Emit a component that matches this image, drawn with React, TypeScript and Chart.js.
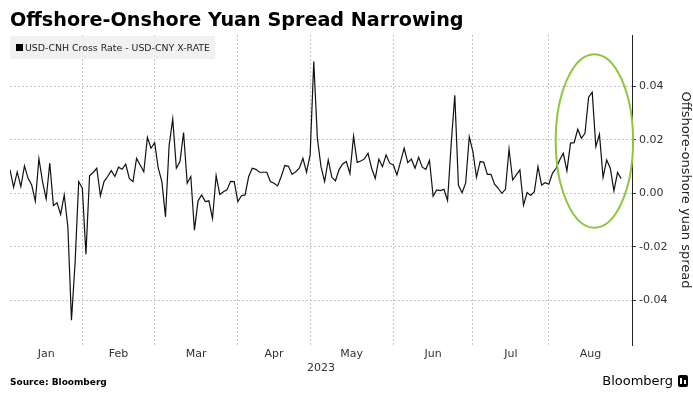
import React, { useEffect, useRef } from "react";
import { Chart, registerables } from "chart.js";

Chart.register(...registerables);

// Spread values, one per business day from 2023-01-04 to 2023-08-29
const spreadValues: number[] = [
  0.0088, 0.0023, 0.008, 0.0025, 0.0103, 0.0056, 0.0031, -0.0029, 0.013, 0.0044,
  -0.0021, 0.0113, -0.0046, -0.0035, -0.0079, -0.0006, -0.0125, -0.0475, -0.026, 0.0044,
  0.0019, -0.0228, 0.0066, 0.0078, 0.0094, -0.0009, 0.0044, 0.0063, 0.0085, 0.0063,
  0.0098, 0.009, 0.0109, 0.0056, 0.0044, 0.0131, 0.0106, 0.0081, 0.021, 0.0169,
  0.019, 0.0094, 0.0044, -0.0088, 0.0179, 0.0278, 0.0094, 0.0119, 0.0228, 0.0038,
  0.0063, -0.0138, -0.0028, -0.0006, -0.0031, -0.0028, -0.0094, 0.0066, -0.0004, 0.0006,
  0.0013, 0.0045, 0.0044, -0.0031, -0.0009, -0.0006, 0.0063, 0.0094, 0.009, 0.0079,
  0.0079, 0.0079, 0.0044, 0.0038, 0.0028, 0.0063, 0.0104, 0.0101, 0.0071, 0.0081,
  0.0094, 0.0131, 0.0079, 0.0144, 0.0494, 0.0206, 0.01, 0.0044, 0.0125, 0.006,
  0.0047, 0.0089, 0.011, 0.0119, 0.0074, 0.0214, 0.0116, 0.0121, 0.0129, 0.015,
  0.0094, 0.0056, 0.0128, 0.01, 0.0144, 0.0113, 0.0106, 0.0069, 0.0119, 0.0169,
  0.0115, 0.0128, 0.0094, 0.0135, 0.0098, 0.009, 0.0123, -0.001, 0.0013, 0.001,
  0.0015, -0.0027, 0.0185, 0.0367, 0.003, 0.0002, 0.0038, 0.0212, 0.0156, 0.006,
  0.0119, 0.0116, 0.0071, 0.0071, 0.0034, 0.0019, 0.0, 0.0015, 0.0166, 0.005,
  0.0069, 0.0088, -0.0044, 0.0003, -0.0008, 0.0006, 0.01, 0.0031, 0.004, 0.0034,
  0.0075, 0.0094, 0.0125, 0.015, 0.0084, 0.0188, 0.019, 0.024, 0.0206, 0.0225,
  0.036, 0.0379, 0.0175, 0.0221, 0.006, 0.0125, 0.0094, 0.0009, 0.0078, 0.0055,
];

const monthLabels: string[] = ["Jan", "Feb", "Mar", "Apr", "May", "Jun", "Jul", "Aug"];
// business days per month on the axis (Jan starts at the 4th)
const monthBusinessDays: number[] = [20, 20, 23, 20, 23, 22, 21, 23];
const yTickValues: number[] = [-0.04, -0.02, 0, 0.02, 0.04];
const yearLabel = "2023";
const seriesName = "USD-CNH Cross Rate - USD-CNY X-RATE";
const yAxisTitle = "Offshore-onshore yuan spread";

// highlighted region (data units): centre index, centre value, half-width (days), half-height (value)
const highlightCenterX = 161.6;
const highlightCenterY = 0.0196;
const highlightHalfX = 10.7;
const highlightHalfY = 0.0325;

const FONT = "'DejaVu Sans', Verdana, sans-serif";
const GRID_COLOR = "#c4c4c4";

export default function App() {
  const canvasRef = useRef<HTMLCanvasElement | null>(null);

  useEffect(() => {
    const canvas = canvasRef.current;
    if (!canvas) return;

    const boundaries: number[] = [];
    const mids: number[] = [];
    let acc = 0;
    monthBusinessDays.forEach((n) => {
      mids.push(acc + n / 2);
      acc += n;
      boundaries.push(acc);
    });
    const xMax = acc;
    const innerBoundaries = boundaries.slice(0, -1);

    const ellipsePlugin = {
      id: "highlightEllipse",
      afterDatasetsDraw(chart: any) {
        const { ctx, scales } = chart;
        const xs = scales.x;
        const ys = scales.y;
        const cx = xs.getPixelForValue(highlightCenterX);
        const cy = ys.getPixelForValue(highlightCenterY);
        const rx = Math.abs(xs.getPixelForValue(highlightCenterX + highlightHalfX) - cx);
        const ry = Math.abs(ys.getPixelForValue(highlightCenterY + highlightHalfY) - cy);
        ctx.save();
        ctx.beginPath();
        ctx.ellipse(cx, cy, rx, ry, 0, 0, Math.PI * 2);
        ctx.strokeStyle = "#8dc63f";
        ctx.lineWidth = 2;
        ctx.stroke();
        ctx.restore();
      },
    };

    const chart = new Chart(canvas, {
      type: "line",
      data: {
        datasets: [
          {
            label: seriesName,
            data: spreadValues.map((v, i) => ({ x: i, y: v })),
            borderColor: "#111",
            borderWidth: 1.2,
            pointRadius: 0,
            tension: 0,
            fill: false,
          },
        ],
      },
      options: {
        animation: false,
        responsive: false,
        layout: { padding: { left: 10, top: 35, right: 0, bottom: 24 } },
        plugins: {
          legend: { display: false },
          tooltip: { enabled: false },
        },
        scales: {
          x: {
            type: "linear",
            min: 0,
            max: xMax,
            afterBuildTicks: (scale: any) => {
              const t = [
                ...innerBoundaries.map((v) => ({ value: v, kind: "b" })),
                ...mids.map((v, i) => ({ value: v, kind: "m", label: monthLabels[i] })),
              ].sort((a, b) => a.value - b.value);
              scale.ticks = t;
            },
            afterFit: (scale: any) => {
              scale.height = 30;
            },
            grid: {
              color: (ctx: any) =>
                ctx.tick && innerBoundaries.includes(ctx.tick.value) ? GRID_COLOR : "rgba(0,0,0,0)",
              drawTicks: false,
              lineWidth: 1,
            },
            border: { display: false, dash: [2, 2] },
            ticks: {
              autoSkip: false,
              maxRotation: 0,
              padding: 3,
              color: "#333",
              font: { family: FONT, size: 11 },
              callback: function (this: any, value: any, index: number, ticks: any[]) {
                const t = ticks[index];
                return t && t.kind === "m" ? t.label : "";
              },
            },
            title: {
              display: true,
              text: yearLabel,
              color: "#333",
              font: { family: FONT, size: 11 },
              padding: { top: 0, bottom: 0 },
            },
          },
          y: {
            type: "linear",
            position: "right",
            min: -0.0568,
            max: 0.0593,
            afterBuildTicks: (scale: any) => {
              scale.ticks = yTickValues.map((v) => ({ value: v }));
            },
            afterFit: (scale: any) => {
              scale.width = 61;
            },
            grid: {
              color: GRID_COLOR,
              drawTicks: true,
              tickLength: 4,
              tickColor: "#333",
              tickBorderDash: [],
            },
            border: { display: true, color: "#222", width: 1, dash: [2, 2] },
            ticks: {
              padding: 3,
              color: "#333",
              font: { family: FONT, size: 11 },
              callback: (v: any) => Number(v).toFixed(2),
            },
            title: {
              display: true,
              text: yAxisTitle,
              color: "#222",
              font: { family: FONT, size: 13 },
              padding: { top: 0, bottom: 3 },
            },
          },
        },
      },
      plugins: [ellipsePlugin],
    });

    return () => chart.destroy();
  }, []);

  return (
    <div
      style={{
        position: "fixed",
        left: 0,
        top: 0,
        width: 693,
        height: 399,
        background: "#fff",
        overflow: "hidden",
        fontFamily: FONT,
      }}
    >
      <canvas ref={canvasRef} width={693} height={399} style={{ position: "absolute", left: 0, top: 0 }} />
      <div
        style={{
          position: "absolute",
          left: 10,
          top: 8,
          fontSize: 19.2,
          fontWeight: "bold",
          lineHeight: "24px",
          color: "#000",
          whiteSpace: "nowrap",
        }}
      >
        Offshore-Onshore Yuan Spread Narrowing
      </div>
      <div
        style={{
          position: "absolute",
          left: 10,
          top: 36,
          width: 205,
          height: 23,
          background: "rgba(238,238,238,0.85)",
          boxSizing: "border-box",
          paddingLeft: 6,
          fontSize: 9.4,
          lineHeight: "23px",
          color: "#222",
          whiteSpace: "nowrap",
        }}
      >
        <span
          style={{
            display: "inline-block",
            width: 7,
            height: 7,
            background: "#000",
            marginRight: 2,
          }}
        />
        {seriesName}
      </div>
      <div
        style={{
          position: "absolute",
          left: 10,
          top: 377,
          fontSize: 9,
          fontWeight: "bold",
          color: "#000",
          whiteSpace: "nowrap",
        }}
      >
        Source: Bloomberg
      </div>
      <div
        style={{
          position: "absolute",
          right: 5,
          top: 373,
          fontSize: 13,
          color: "#000",
          whiteSpace: "nowrap",
          display: "flex",
          alignItems: "center",
        }}
      >
        <span>Bloomberg</span>
        <span
          style={{
            display: "inline-block",
            width: 10,
            height: 12,
            background: "#000",
            borderRadius: 2,
            marginLeft: 5,
            position: "relative",
          }}
        >
          <span style={{ position: "absolute", left: 2, top: 3, width: 2, height: 6, background: "#fff" }} />
          <span style={{ position: "absolute", left: 6, top: 5, width: 2, height: 4, background: "#fff" }} />
        </span>
      </div>
    </div>
  );
}
